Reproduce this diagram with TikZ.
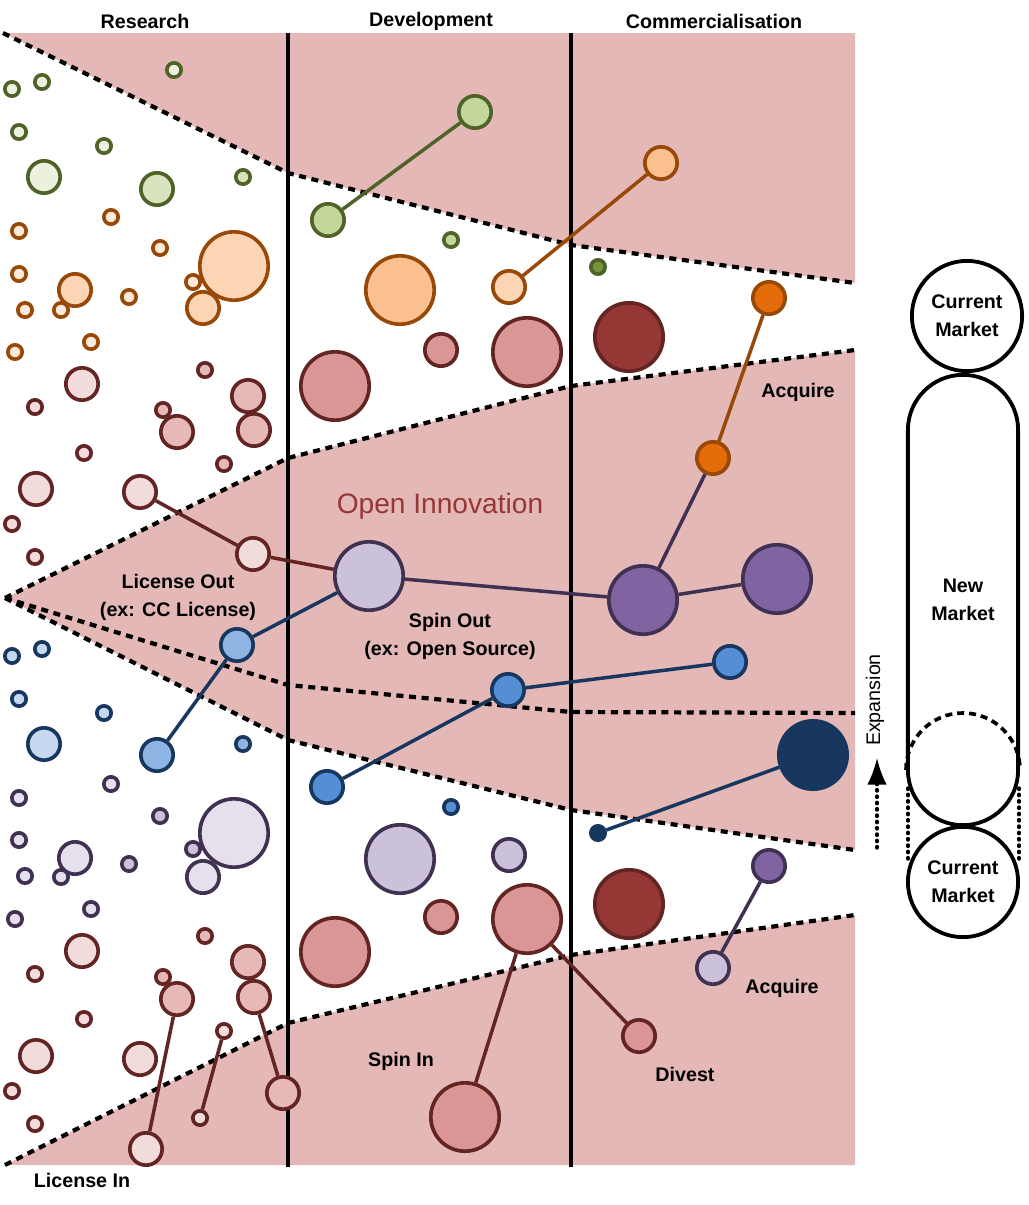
\documentclass[tikz,border=0pt]{standalone}
\usepackage{fontspec}
\setmainfont{Liberation Sans}
\usetikzlibrary{shapes, arrows, arrows.meta, positioning}

\definecolor{bandpink}{HTML}{E4B8B6}
\definecolor{grnline}{HTML}{4F6228}
\definecolor{grnA}{HTML}{EBF1DE}
\definecolor{grnB}{HTML}{D7E4BD}
\definecolor{grnC}{HTML}{C3D69B}
\definecolor{grnD}{HTML}{77933C}
\definecolor{orgline}{HTML}{984807}
\definecolor{orgA}{HTML}{FDEADA}
\definecolor{orgB}{HTML}{FCD5B5}
\definecolor{orgC}{HTML}{FAC090}
\definecolor{orgD}{HTML}{E46C0A}
\definecolor{rdline}{HTML}{632523}
\definecolor{rdA}{HTML}{F2DCDB}
\definecolor{rdB}{HTML}{E6B9B8}
\definecolor{rdC}{HTML}{D99694}
\definecolor{rdD}{HTML}{953735}
\definecolor{bluline}{HTML}{17375E}
\definecolor{bluA}{HTML}{C6D9F1}
\definecolor{bluB}{HTML}{8EB4E3}
\definecolor{bluC}{HTML}{558ED5}
\definecolor{bluD}{HTML}{17375E}
\definecolor{purline}{HTML}{403152}
\definecolor{purA}{HTML}{E6E0EC}
\definecolor{purB}{HTML}{CCC1DA}
\definecolor{purD}{HTML}{8064A2}
\definecolor{titlered}{HTML}{953735}

\begin{document}
\begin{tikzpicture}[x=0.025cm, y=-0.025cm, >=latex', thick,
  dot/.style={circle, draw, line width=2.6pt, inner sep=0pt, minimum size=#1*0.05cm-2.6pt},
  grn/.style={draw=grnline, fill=#1}, org/.style={draw=orgline, fill=#1},
  rd/.style={draw=rdline, fill=#1}, blu/.style={draw=bluline, fill=#1},
  pur/.style={draw=purline, fill=#1},
  link/.style={line width=2.5pt},
  cut/.style={line width=3pt, dash pattern=on 5pt off 4pt},
  dots/.style={line width=2.4pt, line cap=round, dash pattern=on 1pt off 3.5pt},
  lab/.style={font=\fontsize{14}{20}\selectfont\bfseries, align=center},
  market/.style={draw, line width=2.7pt, inner sep=0pt, align=center, font=\fontsize{14}{20}\selectfont\bfseries}]
  \useasboundingbox (0,0) rectangle (1029,1205);

  % Baender
  \fill[bandpink] (3,33) -- (855,33) -- (855,283) -- (571,245) -- (288,173) -- cycle;
  \fill[bandpink] (5,598) -- (288,458) -- (571,386) -- (855,350) -- (855,850) -- (571,810) -- (288,740) -- cycle;
  \fill[bandpink] (5,1165) -- (288,1023) -- (571,955) -- (855,915) -- (855,1165) -- cycle;
  \draw[cut] (3,33) -- (288,173) -- (571,245) -- (855,283);
  \draw[cut] (5,598) -- (288,458) -- (571,386) -- (855,350);
  \draw[cut] (5,598) -- (288,685) -- (571,712) -- (855,713);
  \draw[cut] (5,598) -- (288,740) -- (571,810) -- (855,850);
  \draw[cut] (5,1165) -- (288,1023) -- (571,955) -- (855,915);
  \draw[line width=3pt] (288,33) -- (288,1167);
  \draw[line width=3pt] (571,33) -- (571,1167);

  % Phasen
  \node[lab] (research) at (145,21) {Research};
  \node[lab] (development) at (431,21) {Development};
  \node[lab] (commercial) at (714,21) {Commercialisation};

  % Research: verstreute Ideen
  \foreach \x/\y/\r/\f [count=\i] in {12/89/9/grnA, 42/82/9/grnA, 174/70/9/grnA, 19/132/9/grnA, 104/146/9/grnA,
      243/177/9/grnB, 44/177/18/grnA, 157/189/18/grnB, 451/240/9/grnC, 598/267/9/grnD}
    \node[dot=\r, grn=\f] (g\i) at (\x,\y) {};
  \foreach \x/\y/\r/\f [count=\i] in {111/217/9/orgA, 19/231/9/orgA, 160/248/9/orgA, 19/274/9/orgA, 129/297/9/orgA,
      193/282/9/orgA, 25/310/9/orgA, 61/310/9/orgA, 15/352/9/orgA, 91/342/9/orgA, 75/290/18/orgB,
      203/308/18/orgB, 234/266/36/orgB, 400/290/36/orgC}
    \node[dot=\r, org=\f] (o\i) at (\x,\y) {};
  \foreach \x/\y/\r/\f [count=\i] in {35/407/9/rdA, 84/453/9/rdA, 12/524/9/rdA, 35/557/9/rdA, 163/410/9/rdB,
      205/370/9/rdB, 224/464/9/rdB, 82/384/18/rdA, 36/489/18/rdA, 177/432/18/rdB, 248/396/18/rdB,
      254/430/18/rdB, 35/974/9/rdA, 84/1019/9/rdA, 12/1091/9/rdA, 35/1124/9/rdA, 163/977/9/rdB,
      205/936/9/rdB, 82/951/18/rdA, 36/1056/18/rdA, 140/1059/18/rdA, 248/962/18/rdB,
      335/386/36/rdC, 441/350/18/rdC, 527/352/36/rdC, 335/952/36/rdC, 441/917/18/rdC,
      629/337/36/rdD, 629/904/36/rdD}
    \node[dot=\r, rd=\f] (r\i) at (\x,\y) {};
  \foreach \x/\y/\r/\f [count=\i] in {12/656/9/bluA, 42/649/9/bluA, 19/699/9/bluA, 104/713/9/bluA,
      243/744/9/bluB, 44/744/18/bluA, 451/807/9/bluC}
    \node[dot=\r, blu=\f] (b\i) at (\x,\y) {};
  \foreach \x/\y/\r/\f [count=\i] in {111/784/9/purA, 19/798/9/purA, 19/840/9/purA, 25/876/9/purA,
      61/877/9/purA, 15/919/9/purA, 91/909/9/purA, 160/816/9/purB, 129/864/9/purB, 193/849/9/purB,
      75/858/18/purA, 203/877/18/purA, 234/833/36/purA, 400/859/36/purB, 509/855/18/purB}
    \node[dot=\r, pur=\f] (p\i) at (\x,\y) {};

  % verbundene Ideen
  \node[dot=18, grn=grnC] (devG1) at (328,220) {};
  \node[dot=18, grn=grnC] (devG2) at (475,112) {};
  \node[dot=18, org=orgB] (devO1) at (509,287) {};
  \node[dot=18, org=orgC] (devO2) at (661,163) {};
  \node[dot=18, org=orgD] (acqB) at (769,298) {};
  \node[dot=18, org=orgD] (acqA) at (713,458) {};
  \node[dot=18, rd=rdA] (outA) at (140,492) {};
  \node[dot=18, rd=rdA] (outB) at (253,554) {};
  \node[dot=36, pur=purB] (hub) at (369,576) {};
  \node[dot=36, pur=purD] (spunA) at (643,600) {};
  \node[dot=36, pur=purD] (spunB) at (777,579) {};
  \node[dot=18, blu=bluB] (ccA) at (157,755) {};
  \node[dot=18, blu=bluB] (ccB) at (237,645) {};
  \node[dot=18, blu=bluC] (osA) at (327,787) {};
  \node[dot=18, blu=bluC] (osB) at (508,690) {};
  \node[dot=18, blu=bluC] (osC) at (730,662) {};
  \node[dot=9, blu=bluD] (grow1) at (598,833) {};
  \node[dot=36, blu=bluD] (grow2) at (813,755) {};
  \node[dot=18, pur=purD] (acqC) at (769,866) {};
  \node[dot=18, pur=purB] (acqD) at (713,968) {};
  \node[dot=36, rd=rdC] (divA) at (527,919) {};
  \node[dot=18, rd=rdC] (divB) at (639,1036) {};
  \node[dot=36, rd=rdC] (spinin) at (465,1117) {};
  \node[dot=18, rd=rdB] (inA1) at (177,999) {};
  \node[dot=18, rd=rdA] (inA2) at (146,1149) {};
  \node[dot=9, rd=rdA] (inB1) at (224,1031) {};
  \node[dot=9, rd=rdA] (inB2) at (200,1118) {};
  \node[dot=18, rd=rdB] (inC1) at (254,997) {};
  \node[dot=18, rd=rdB] (inC2) at (283,1093) {};

  \draw[link, grnline] (devG1) -- (devG2);
  \draw[link, orgline] (devO1) -- (devO2);
  \draw[link, orgline] (acqB) -- (acqA);
  \draw[link, purline] (acqA) -- (spunA);
  \draw[link, purline] (hub) -- (spunA);
  \draw[link, purline] (spunA) -- (spunB);
  \draw[link, rdline] (outA) -- (outB);
  \draw[link, rdline] (outB) -- (hub);
  \draw[link, bluline] (ccA) -- (ccB);
  \draw[link, bluline] (ccB) -- (hub);
  \draw[link, bluline] (osA) -- (osB);
  \draw[link, bluline] (osB) -- (osC);
  \draw[link, bluline] (grow1) -- (grow2);
  \draw[link, purline] (acqC) -- (acqD);
  \draw[link, rdline] (divA) -- (spinin);
  \draw[link, rdline] (divA) -- (divB);
  \draw[link, rdline] (inA1) -- (inA2);
  \draw[link, rdline] (inB1) -- (inB2);
  \draw[link, rdline] (inC1) -- (inC2);

  % Beschriftungen
  \node[font=\fontsize{20}{24}\selectfont, text=titlered] (openinno) at (440,506) {Open Innovation};
  \node[lab] (licout) at (178,597) {License Out\\(ex: CC License)};
  \node[lab] (spinout) at (450,636) {Spin Out\\(ex: Open Source)};
  \node[lab] (acqtop) at (798,392) {Acquire};
  \node[lab] (acqbot) at (782,988) {Acquire};
  \node[lab] (divest) at (685,1074) {Divest};
  \node[lab] (spinlab) at (401,1061) {Spin In};
  \node[lab] (licin) at (82,1180) {License In};

  % Maerkte
  \node[market, circle, minimum size=2.85cm-2.7pt] (curtop) at (967,316) {Current\\Market};
  \node[market, rectangle, rounded corners=1.38cm, minimum width=2.85cm-2.7pt, minimum height=11.35cm-2.7pt] (newmkt) at (963,600) {New\\Market};
  \node[market, circle, minimum size=2.85cm-2.7pt] (curbot) at (963,882) {Current\\Market};
  \draw[line width=2.6pt, dash pattern=on 5pt off 3.5pt] (906,770) arc[start angle=180, end angle=0, radius=1.425cm];
  \draw[dots] (908,788) -- (908,862);
  \draw[dots] (1019,788) -- (1019,862);
  \coordinate (expbase) at (877,848);
  \coordinate (expmid) at (877,784);
  \coordinate (exptip) at (877,758);
  \draw[dots] (expbase) -- (expmid);
  \draw[-{Latex[length=19pt, width=14pt]}, line width=2pt] (expmid) -- (exptip);
  \node[rotate=90, font=\fontsize{14}{16}\selectfont] (expansion) at (875,700) {Expansion};
\end{tikzpicture}
\end{document}
